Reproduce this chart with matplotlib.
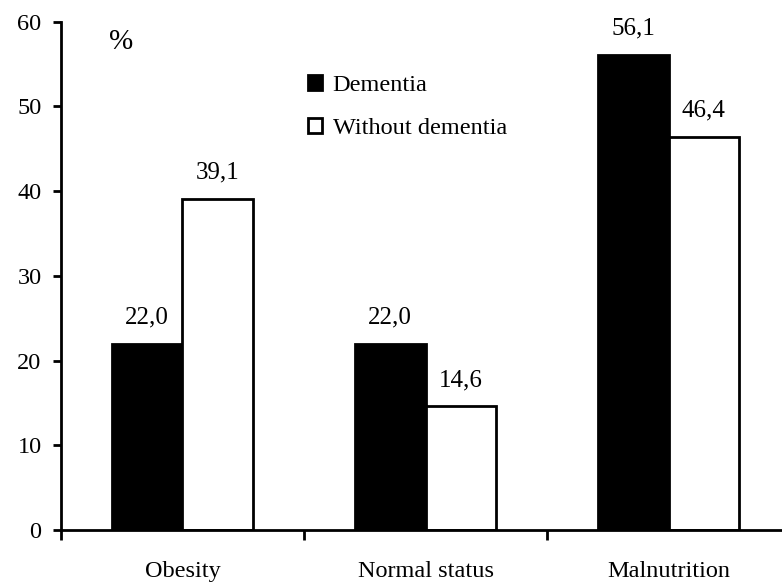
import numpy as np
import matplotlib
matplotlib.use("Agg")
import matplotlib.pyplot as plt
from matplotlib.patches import Patch

categories = ["Obesity", "Normal status", "Malnutrition"]
dementia = [22.0, 22.0, 56.1]
without_dementia = [39.1, 14.6, 46.4]

plt.rcParams['font.family'] = ['Liberation Serif', 'DejaVu Serif']

fig = plt.figure(figsize=(7.82, 5.87), dpi=100)
ax = fig.add_axes([0.078, 0.097, 0.922, 0.866])

x = np.arange(len(categories))
w = 0.29
b1 = ax.bar(x - w/2, dementia, w, color='black', edgecolor='black', linewidth=2)
b2 = ax.bar(x + w/2, without_dementia, w, color='white', edgecolor='black', linewidth=2)

for bars, vals in [(b1, dementia), (b2, without_dementia)]:
    for r, v in zip(bars, vals):
        ax.annotate("{:.1f}".format(v).replace('.', ','),
                    (r.get_x() + r.get_width()/2, v), xytext=(0, 11),
                    textcoords='offset points', ha='center', va='bottom', fontsize=18)

ax.set_xlim(-0.5, 2.467)
ax.set_ylim(0, 60)
ax.set_yticks(range(0, 61, 10))
ax.set_xticks([-0.5, 0.5, 1.5])
ax.set_xticklabels([])
ax.set_xticks(x, minor=True)
ax.set_xticklabels(categories, minor=True)
ax.tick_params(axis='x', which='minor', length=0, pad=22, labelsize=17.5)
ax.tick_params(axis='x', which='major', length=7, width=2)
ax.tick_params(axis='y', length=6, width=2, labelsize=17.5, pad=8)

for s in ['top', 'right']:
    ax.spines[s].set_visible(False)
for s in ['left', 'bottom']:
    ax.spines[s].set_linewidth(2)

ax.text(0.066, 0.96, "%", transform=ax.transAxes, fontsize=21, va='center')

handles = [Patch(facecolor='black', edgecolor='black', linewidth=2, label='Dementia'),
           Patch(facecolor='white', edgecolor='black', linewidth=2, label='Without dementia')]
ax.legend(handles=handles, loc='upper left', bbox_to_anchor=(0.343, 0.895), frameon=False,
          fontsize=17.5, handlelength=0.55, handleheight=0.55, handletextpad=0.45,
          labelspacing=0.9, borderaxespad=0, borderpad=0)

fig.savefig("out.png", dpi=100)
